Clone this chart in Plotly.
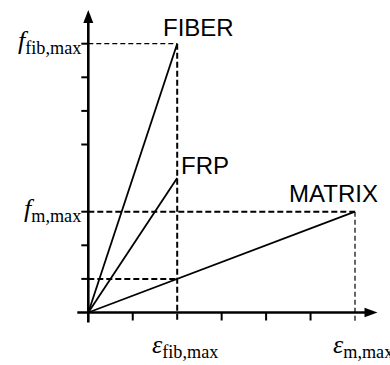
import plotly.graph_objects as go

# Stress-strain sketch: fiber, FRP composite and matrix (arbitrary units)
strain_fib_max = 2.0
strain_m_max = 6.0
stress_fib_max = 8.0
stress_frp_max = 4.0
stress_m_max = 3.0
stress_m_at_fib = 1.0

series_names = ["FIBER", "FRP", "MATRIX"]
series_x = [[0, strain_fib_max], [0, strain_fib_max], [0, strain_m_max]]
series_y = [[0, stress_fib_max], [0, stress_frp_max], [0, stress_m_max]]

x_ticks = [1, 3, 4, 5]
y_ticks = [1, 2, 3, 5, 6, 7, 8]

W, H = 390, 365
# pixel placement of the origin and size of one unit
ox, oy = 88.3, 312.5
ux, uy = 44.45, 33.6
x_range = [-ox / ux, (W - ox) / ux]
y_range = [-(H - oy) / uy, oy / uy]


def px_x(p):
    return p / ux


def px_y(p):
    return p / uy


fig = go.Figure()

for xs, ys in zip(series_x, series_y):
    fig.add_trace(go.Scatter(x=xs, y=ys, mode="lines",
                             line=dict(color="black", width=1.8),
                             hoverinfo="skip", showlegend=False))

shapes = []
thick = dict(color="black", width=2, dash="6px,3px")
thin = dict(color="black", width=1.2, dash="5px,3px")

# guide lines
shapes.append(dict(type="line", x0=0, x1=strain_fib_max, y0=stress_fib_max, y1=stress_fib_max, line=thin))
shapes.append(dict(type="line", x0=strain_fib_max, x1=strain_fib_max, y0=stress_fib_max, y1=-px_y(10), line=thick))
shapes.append(dict(type="line", x0=0, x1=strain_m_max, y0=stress_m_max, y1=stress_m_max, line=thick))
shapes.append(dict(type="line", x0=strain_m_max, x1=strain_m_max, y0=stress_m_max, y1=-px_y(10), line=thin))
shapes.append(dict(type="line", x0=0, x1=strain_fib_max, y0=stress_m_at_fib, y1=stress_m_at_fib, line=thick))

# axes
axis_line = dict(color="black", width=2.6)
x_tip = (377.5 - ox) / ux
y_tip = (oy - 10) / uy
head_len_x, head_half_x = px_x(13), px_y(4.8)
head_len_y, head_half_y = px_y(13), px_x(5)
shapes.append(dict(type="line", x0=-px_x(11), x1=x_tip - head_len_x + px_x(1), y0=0, y1=0, line=axis_line))
shapes.append(dict(type="line", x0=0, x1=0, y0=-px_y(10), y1=y_tip - head_len_y + px_y(1), line=axis_line))
shapes.append(dict(type="path",
                   path=f"M {x_tip},0 L {x_tip - head_len_x},{head_half_x} L {x_tip - head_len_x},{-head_half_x} Z",
                   fillcolor="black", line=dict(width=0)))
shapes.append(dict(type="path",
                   path=f"M 0,{y_tip} L {head_half_y},{y_tip - head_len_y} L {-head_half_y},{y_tip - head_len_y} Z",
                   fillcolor="black", line=dict(width=0)))

# ticks
for t in x_ticks:
    shapes.append(dict(type="line", x0=t, x1=t, y0=0, y1=-px_y(8), line=dict(color="black", width=2)))
for t in y_ticks:
    shapes.append(dict(type="line", x0=-px_x(7), x1=0, y0=t, y1=t, line=dict(color="black", width=2)))

fig.update_layout(shapes=shapes)

sans = dict(family="Liberation Sans, Arial, sans-serif", size=24, color="black")
serif = dict(family="Liberation Serif, Times New Roman, serif", size=26, color="black")

annotations = []
# series labels next to the end points
label_offsets = {"FIBER": (21, 1), "FRP": (28, -3), "MATRIX": (-22, 3)}
for name, xs, ys in zip(series_names, series_x, series_y):
    dx, dy = label_offsets[name]
    annotations.append(dict(x=xs[-1], y=ys[-1], text=name, showarrow=False,
                            xanchor="center", yanchor="bottom", xshift=dx, yshift=dy, font=sans))

# axis labels
annotations.append(dict(x=0, y=stress_fib_max, text="<i>f</i><sub>fib,max</sub>", showarrow=False,
                        xanchor="right", yanchor="middle", xshift=-5, yshift=2, font=serif))
annotations.append(dict(x=0, y=stress_m_max, text="<i>f</i><sub>m,max</sub>", showarrow=False,
                        xanchor="right", yanchor="middle", xshift=-5, yshift=2, font=serif))
annotations.append(dict(x=strain_fib_max, y=0, text="<i>ε</i><sub>fib,max</sub>", showarrow=False,
                        xanchor="center", yanchor="top", xshift=8, yshift=-15, font=serif))
annotations.append(dict(x=strain_m_max, y=0, text="<i>ε</i><sub>m,max</sub>", showarrow=False,
                        xanchor="center", yanchor="top", xshift=8, yshift=-15, font=serif))

fig.update_layout(
    annotations=annotations,
    width=W, height=H,
    margin=dict(l=0, r=0, t=0, b=0),
    paper_bgcolor="white", plot_bgcolor="white",
    xaxis=dict(range=x_range, visible=False, fixedrange=True),
    yaxis=dict(range=y_range, visible=False, fixedrange=True),
    showlegend=False,
)

fig.write_html("out.html", config={"displayModeBar": False})
